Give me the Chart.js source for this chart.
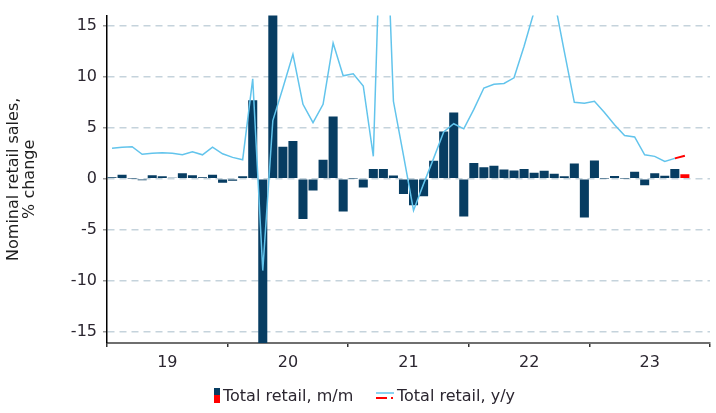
<!DOCTYPE html>
<html>
<head>
<meta charset="utf-8">
<script src="https://cdn.jsdelivr.net/npm/chart.js@4.4.0/dist/chart.umd.min.js"></script>
<style>
  html, body { margin: 0; padding: 0; background: #fff; }
  #wrap { width: 716px; height: 413px; }
</style>
</head>
<body>
<div id="wrap"><canvas id="canvas" width="716" height="413"></canvas></div>
<script>
// months Jan 2019 .. Dec 2023
const years = [2019, 2020, 2021, 2022, 2023];
const yearLabels = ["19", "20", "21", "22", "23"];
const months = [];
years.forEach(y => { for (let m = 1; m <= 12; m++) months.push(y + "-" + String(m).padStart(2, "0")); });

const seriesNames = ["Total retail, m/m", "Total retail, y/y"];

// m/m, % (Jan 2019 .. Sep 2023)
const retailMoM = [
  0.15, 0.4, 0.02, -0.15, 0.35, 0.25, 0.1, 0.55, 0.35, 0.15, 0.4, -0.4,
  -0.2, 0.25, 7.7, -20, 18, 3.15, 3.7, -3.95, -1.15, 1.87, 6.1, -3.2,
  0.02, -0.85, 0.97, 0.97, 0.33, -1.5, -2.6, -1.7, 1.77, 4.64, 6.5, -3.7,
  1.55, 1.13, 1.29, 0.91, 0.81, 0.97, 0.6, 0.78, 0.5, 0.24, 1.49, -3.8,
  1.8, 0.03, 0.27, 0.03, 0.7, -0.64, 0.54, 0.29, 0.95, null, null, null
];
// latest m/m (Oct 2023), red
const retailMoMLatest = [
  null, null, null, null, null, null, null, null, null, null, null, null,
  null, null, null, null, null, null, null, null, null, null, null, null,
  null, null, null, null, null, null, null, null, null, null, null, null,
  null, null, null, null, null, null, null, null, null, null, null, null,
  null, null, null, null, null, null, null, null, null, 0.45, null, null
];
// y/y, % (Jan 2019 .. Sep 2023)
const retailYoY = [
  3.0, 3.1, 3.15, 2.4, 2.5, 2.55, 2.5, 2.35, 2.65, 2.35, 3.1, 2.45,
  2.1, 1.87, 9.8, -9.0, 5.7, 8.9, 12.2, 7.3, 5.5, 7.3, 13.3, 10.1,
  10.3, 9.1, 2.2, 34, 7.6, 2.3, -3.1, -0.5, 2.0, 4.6, 5.4, 4.9,
  6.8, 8.9, 9.27, 9.35, 9.9, 13.0, 16.4, 20, 17.6, 12.5, 7.5, 7.4,
  7.6, 6.5, 5.3, 4.25, 4.1, 2.35, 2.2, 1.7, 2.0, null, null, null
];
// y/y latest segment (Sep -> Oct 2023), red
const retailYoYLatest = [
  null, null, null, null, null, null, null, null, null, null, null, null,
  null, null, null, null, null, null, null, null, null, null, null, null,
  null, null, null, null, null, null, null, null, null, null, null, null,
  null, null, null, null, null, null, null, null, null, null, null, null,
  null, null, null, null, null, null, null, null, 2.0, 2.25, null, null
];
const yTicks = [-15, -10, -5, 0, 5, 10, 15];

const BAR_BLUE = "#073d62";
const LINE_BLUE = "#62c4ec";
const RED = "#ff0000";
const FONT = "'DejaVu Sans', Verdana, sans-serif";
const TEXT = "#2b2630";

const legendPlugin = {
  id: "customLegend",
  afterDraw(chart) {
    const ctx = chart.ctx;
    ctx.save();
    ctx.fillStyle = BAR_BLUE;
    ctx.fillRect(214, 388, 6, 7);
    ctx.fillStyle = RED;
    ctx.fillRect(214, 395, 6, 8);
    ctx.font = "16px " + FONT;
    ctx.fillStyle = TEXT;
    ctx.textBaseline = "middle";
    ctx.fillText(seriesNames[0], 223, 397);
    ctx.strokeStyle = LINE_BLUE;
    ctx.lineWidth = 1.5;
    ctx.beginPath(); ctx.moveTo(376, 393); ctx.lineTo(394, 393); ctx.stroke();
    ctx.strokeStyle = RED;
    ctx.lineWidth = 2;
    ctx.beginPath(); ctx.moveTo(376, 398); ctx.lineTo(387, 398); ctx.stroke();
    ctx.fillStyle = RED;
    ctx.fillRect(391, 397, 2, 2);
    ctx.fillStyle = TEXT;
    ctx.fillText(seriesNames[1], 397, 397);
    ctx.restore();
  }
};

const canvas = document.getElementById("canvas");

const myChartConfig = {
  type: "bar",
  data: {
    labels: months,
    datasets: [
      { type: "line", label: seriesNames[1], data: retailYoY, borderColor: LINE_BLUE, borderWidth: 1.5,
        pointRadius: 0, tension: 0, order: 0, clip: 0 },
      { type: "line", label: seriesNames[1], data: retailYoYLatest, borderColor: RED, borderWidth: 2,
        pointRadius: 0, tension: 0, order: 0, clip: 0 },
      { label: seriesNames[0], data: retailMoM, backgroundColor: BAR_BLUE, grouped: false,
        barPercentage: 0.9, categoryPercentage: 1, order: 1, clip: 0 },
      { label: seriesNames[0], data: retailMoMLatest, backgroundColor: RED, grouped: false,
        barPercentage: 0.9, categoryPercentage: 1, order: 1, clip: 0 }
    ]
  },
  options: {
    responsive: false,
    animation: false,
    layout: { padding: { top: 7, right: 6, left: 0, bottom: 0 } },
    plugins: { legend: { display: false }, tooltip: { enabled: false } },
    scales: {
      x: {
        offset: true,
        border: { display: true, color: "#6f6f6f", width: 2 },
        grid: {
          offset: true,
          drawOnChartArea: false,
          drawTicks: true,
          tickLength: 4,
          lineWidth: 1.5,
          color: c => (c.index === undefined || c.index % 12 === 0) ? "#333" : "rgba(0,0,0,0)"
        },
        ticks: {
          autoSkip: false,
          maxRotation: 0,
          padding: 6,
          labelOffset: -5,
          color: TEXT,
          font: { size: 16, family: FONT },
          callback: (v, i) => i % 12 === 6 ? yearLabels[Math.floor(i / 12)] : ""
        },
        afterFit: a => { a.height = 70; }
      },
      y: {
        min: -16.1,
        max: 16,
        afterBuildTicks: a => { a.ticks = yTicks.map(v => ({ value: v })); },
        border: { display: true, color: "#000", width: 1.5, dash: [7, 5] },
        grid: {
          color: "#c5d3dc",
          lineWidth: 1.5,
          tickLength: 4,
          tickColor: "#9a9a9a",
          tickBorderDash: []
        },
        ticks: {
          padding: 6,
          color: TEXT,
          font: { size: 16, family: FONT }
        },
        title: {
          display: true,
          text: ["Nominal retail sales,", "% change"],
          color: "#1e1e1e",
          font: { size: 16, family: FONT, lineHeight: 1 },
          padding: { top: 6, bottom: 0 }
        },
        afterFit: a => { a.width = 107; }
      }
    }
  },
  plugins: [legendPlugin]
};

var myChart = new Chart(canvas.getContext("2d"), myChartConfig);
</script>
</body>
</html>
